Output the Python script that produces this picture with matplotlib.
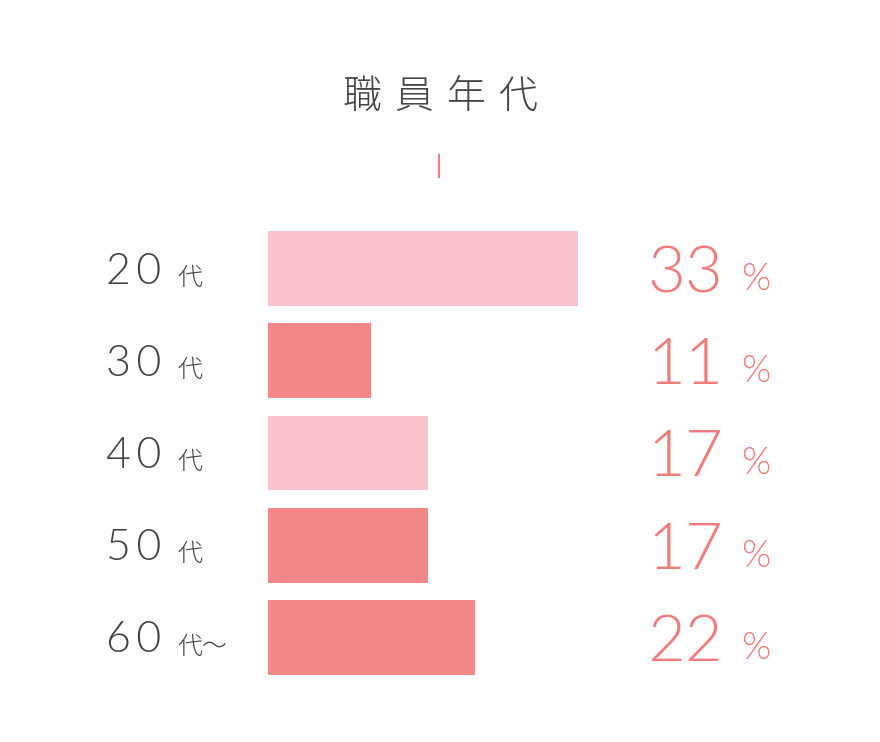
import matplotlib
matplotlib.use("Agg")
import matplotlib.pyplot as plt
import matplotlib.transforms as mtransforms
from matplotlib.lines import Line2D
from matplotlib import font_manager as fm

# ---- data ----
categories = ["20", "30", "40", "50", "60"]
suffixes = ["代", "代", "代", "代", "代〜"]
values = [33, 11, 17, 17, 22]
bar_colors = ["#F9C4CB", "#F78889", "#F9C4CB", "#F78889", "#F78889"]
title_chars = ["職", "員", "年", "代"]

print(sorted({(f.name, f.weight) for f in fm.fontManager.ttflist if f.name in ("Lato", "Open Sans", "Noto Sans CJK JP", "Roboto", "Inter")}))

W, H = 880, 742
fig = plt.figure(figsize=(W / 100, H / 100), dpi=100)
fig.patch.set_facecolor("white")

ax_left = 268 / W
ax_w = 376 / W
ax_top = 222.4
ax_bot = 683.6
ax = fig.add_axes([ax_left, (H - ax_bot) / H, ax_w, (ax_bot - ax_top) / H])
ax.set_xlim(0, 40)
ax.set_ylim(len(categories) - 0.5, -0.5)
ax.axis("off")

ypos = list(range(len(categories)))
ax.barh(ypos, values, height=75 / 92.25, color=bar_colors, edgecolor="none")

text_dark = "#444444"
pink = "#F07C7C"
blend = mtransforms.blended_transform_factory(fig.transFigure, ax.transData)

def off(dy_px):
    return mtransforms.offset_copy(blend, fig=fig, x=0, y=-dy_px * 72 / 100, units="points")

num_font = ["Lato", "DejaVu Sans"]
for i, (c, s, v) in enumerate(zip(categories, suffixes, values)):
    ax.text(106 / W, i, "\u2009".join(c), transform=off(15), ha="left", va="baseline",
            fontsize=31, family=num_font, fontweight=300, color=text_dark)
    ax.text(177 / W, i, s, transform=off(16), ha="left", va="baseline",
            fontsize=18, family=["Noto Sans CJK JP", "DejaVu Sans"], fontweight=300,
            color=text_dark)
    ax.text(723 / W, i, str(v), transform=off(23.5), ha="right", va="baseline",
            fontsize=47, family=num_font, fontweight=300, color=pink)
    ax.text(741 / W, i, "%", transform=off(21.5), ha="left", va="baseline",
            fontsize=27, family=num_font, fontweight=300, color=pink)

for k, ch in enumerate(title_chars):
    fig.text((361.5 + 52.3 * k) / W, 1 - 97 / H, ch, ha="center", va="center",
             fontsize=28, family=["Noto Sans CJK JP", "DejaVu Sans"], fontweight=300,
             color=text_dark)
fig.add_artist(Line2D([439 / W, 439 / W], [1 - 155 / H, 1 - 177 / H],
                      transform=fig.transFigure, color="#F07C7C", linewidth=1.6))

fig.savefig("out.png", dpi=100, facecolor="white")
